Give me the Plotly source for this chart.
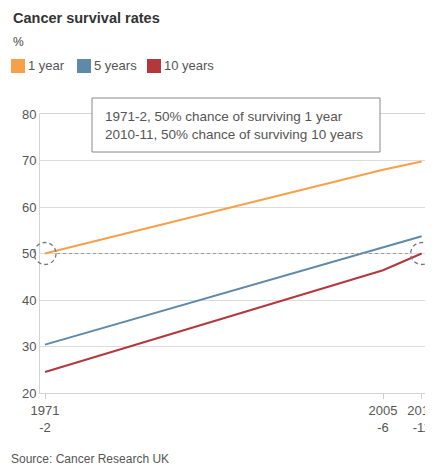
import plotly.graph_objects as go

# ---- data ----
periods = ["1971-2", "2005-6", "2010-11"]
x_pos = [1971, 2006, 2010]
tick_text = ["1971<br>-2", "2005<br>-6", "2010<br>-11"]
one_year = [50.0, 68.0, 69.8]
five_years = [30.4, 51.4, 53.7]
ten_years = [24.5, 46.4, 50.0]
series_names = ["1 year", "5 years", "10 years"]
colors = ["#F7A04A", "#5E89A8", "#B2383E"]
note_lines = ["1971-2, 50% chance of surviving 1 year",
              "2010-11, 50% chance of surviving 10 years"]

OFF = 8  # page body margin
W, H = 433 - OFF, 465 - OFF
L, T = 40 - OFF, 114 - OFF
R = 433 - 426
B = H - (393 - OFF)
PW, PH = W - L - R, H - T - B
XR = [1970.48, 2010.45]


def px(x):  # reference pixel -> paper
    return (x - OFF - L) / PW


def py(y):
    return (H - B - (y - OFF)) / PH


def dx(v):  # data x -> paper
    return (v - XR[0]) / (XR[1] - XR[0])


def dy(v):
    return (v - 20) / 60


FONT = "Liberation Sans, Arial, sans-serif"
fig = go.Figure()
for name, vals, c in zip(series_names, [one_year, five_years, ten_years], colors):
    fig.add_trace(go.Scatter(x=x_pos, y=vals, mode="lines", name=name,
                             line=dict(color=c, width=2), hoverinfo="x+y"))

shapes = []
# dashed reference line at 50
shapes.append(dict(type="line", xref="paper", yref="paper",
                   x0=dx(x_pos[0]) + 12 / PW, x1=dx(x_pos[-1]) - 11 / PW,
                   y0=dy(50), y1=dy(50), line=dict(color="#999", width=1, dash="3px,3px"),
                   layer="above"))
# dashed circles
for xc in [x_pos[0], x_pos[-1]]:
    shapes.append(dict(type="circle", xref="paper", yref="paper", xsizemode="pixel",
                       ysizemode="pixel", xanchor=dx(xc), yanchor=dy(50),
                       x0=-11, x1=11, y0=-11, y1=11,
                       line=dict(color="#777", width=1.3, dash="4px,3px"), layer="above"))
# note box
shapes.append(dict(type="rect", xref="paper", yref="paper", x0=px(92), x1=px(380),
                   y0=py(152), y1=py(98), line=dict(color="#888", width=1),
                   fillcolor="white", layer="above"))

annotations = []
annotations.append(dict(xref="paper", yref="paper", x=px(103), y=py(125), xanchor="left",
                        yanchor="middle", align="left", showarrow=False,
                        text="<br>".join(note_lines),
                        font=dict(family=FONT, size=13.5, color="#555")))
# title, unit
annotations.append(dict(xref="paper", yref="paper", x=px(11), y=py(18), xanchor="left",
                        yanchor="middle", showarrow=False, text="<b>Cancer survival rates</b>",
                        font=dict(family=FONT, size=14.5, color="#333")))
annotations.append(dict(xref="paper", yref="paper", x=px(11), y=py(42), xanchor="left",
                        yanchor="middle", showarrow=False, text="%",
                        font=dict(family=FONT, size=12, color="#444")))
# legend
leg_sq_x = [11, 77, 147]
for name, c, sx in zip(series_names, colors, leg_sq_x):
    shapes.append(dict(type="rect", xref="paper", yref="paper", x0=px(sx), x1=px(sx + 14),
                       y0=py(73), y1=py(59), fillcolor=c, line=dict(width=0)))
    annotations.append(dict(xref="paper", yref="paper", x=px(sx + 15), y=py(66), xanchor="left",
                            yanchor="middle", showarrow=False, text=name,
                            font=dict(family=FONT, size=13, color="#555")))
# source
annotations.append(dict(xref="paper", yref="paper", x=px(9), y=py(459), xanchor="left",
                        yanchor="middle", showarrow=False,
                        text="Source: Cancer Research UK",
                        font=dict(family=FONT, size=12, color="#555")))

fig.update_layout(
    width=W, height=H, margin=dict(l=L, r=R, t=T, b=B, autoexpand=False),
    paper_bgcolor="white", plot_bgcolor="white", showlegend=False,
    shapes=shapes, annotations=annotations,
    font=dict(family=FONT, color="#555"),
    xaxis=dict(range=XR, tickvals=x_pos, ticktext=tick_text,
               showgrid=False, zeroline=False, showline=True, mirror=True,
               linecolor="#d4d4d4", linewidth=1, ticks="outside", ticklen=5,
               tickcolor="#ccc", ticklabeloverflow="allow",
               tickfont=dict(family=FONT, size=13, color="#555")),
    yaxis=dict(range=[20, 80], dtick=10, showgrid=True, gridcolor="#dcdcdc",
               zeroline=False, showline=True, mirror=True, linecolor="#d4d4d4",
               linewidth=1, ticks="", tickfont=dict(family=FONT, size=13, color="#555")),
)

fig.write_html("out.html")
